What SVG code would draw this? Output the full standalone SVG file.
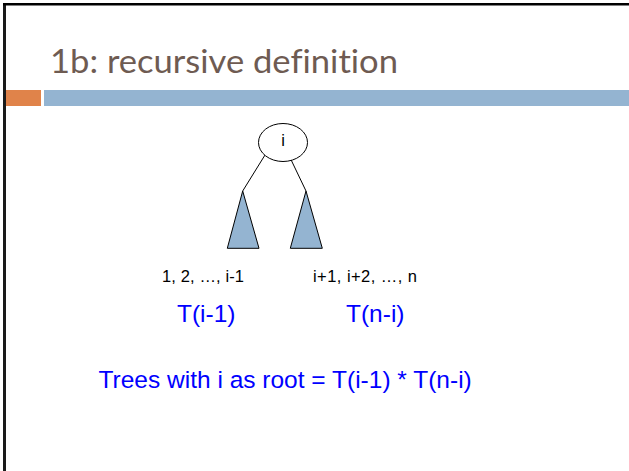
<svg xmlns="http://www.w3.org/2000/svg" width="629" height="471" viewBox="0 0 629 471">
<style>
.title{font-family:Lato,"Open Sans",sans-serif;font-size:33px;fill:#6E5B52;font-variant-ligatures:none}
.lbl{font-family:"Liberation Sans",Arial,sans-serif;font-size:16.5px;fill:#000}
.blue{font-family:"Liberation Sans",Arial,sans-serif;font-size:24.5px;fill:#0000FF}
.edge{stroke:#000;stroke-width:1;fill:none}
.tri{fill:#94B4D1;stroke:#000;stroke-width:1}
</style>
<rect x="0" y="0" width="629" height="471" fill="#fff"/>
<g id="frame">
<rect x="3" y="3" width="3" height="468" fill="#1a1a1a"/>
<rect x="3" y="3" width="626" height="2.5" fill="#000"/>
<rect x="6" y="90" width="35" height="16" fill="#E0834A"/>
<rect x="44" y="90" width="585" height="16" fill="#94B4D1"/>
</g>
<text class="title" x="50" y="73" textLength="348" lengthAdjust="spacingAndGlyphs">1b: recursive definition</text>
<g id="connectors">
<line class="edge" x1="265" y1="155" x2="242.7" y2="191"/>
<line class="edge" x1="290.7" y1="159" x2="306" y2="191"/>
</g>
<g id="root">
<ellipse cx="283" cy="142.5" rx="24.5" ry="19" fill="#fff" stroke="#000" stroke-width="1"/>
<text class="lbl" x="283" y="146" text-anchor="middle" font-size="15">i</text>
</g>
<g id="left-subtree">
<polygon class="tri" points="242.7,191 227.3,248.3 259,248.3"/>
</g>
<g id="right-subtree">
<polygon class="tri" points="306,191 290.3,248.3 322.3,248.3"/>
</g>
<text class="lbl" x="162" y="282" textLength="82">1, 2, …, i-1</text>
<text class="lbl" x="313" y="282" textLength="104">i+1, i+2, …, n</text>
<text class="blue" x="177" y="322">T(i-1)</text>
<text class="blue" x="346" y="322">T(n-i)</text>
<text class="blue" x="98.5" y="388">Trees with i as root = T(i-1) * T(n-i)</text>
</svg>
